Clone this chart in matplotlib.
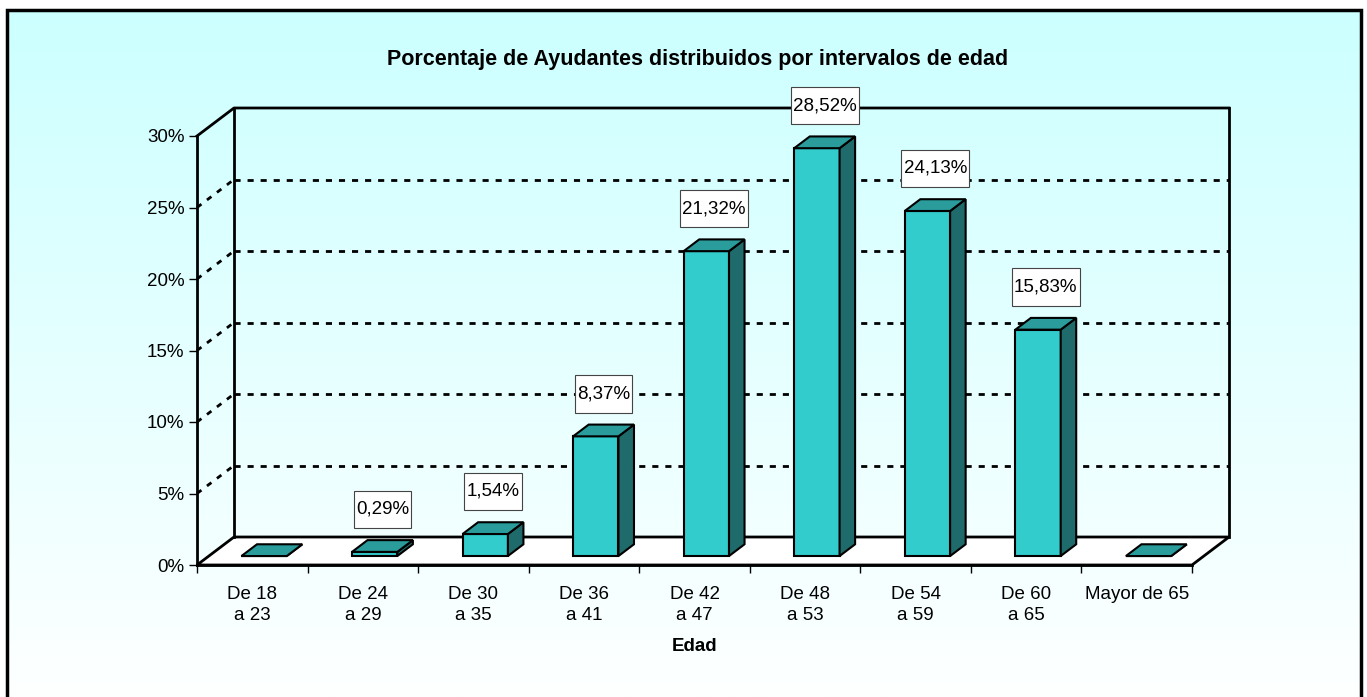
import numpy as np
import matplotlib
matplotlib.use("Agg")
import matplotlib.pyplot as plt
from matplotlib.patches import Polygon
from matplotlib.path import Path
from matplotlib.ticker import FuncFormatter

plt.rcParams['font.family'] = ['Liberation Sans', 'DejaVu Sans']

# data
categorias = ["De 18\na 23", "De 24\na 29", "De 30\na 35", "De 36\na 41", "De 42\na 47",
              "De 48\na 53", "De 54\na 59", "De 60\na 65", "Mayor de 65"]
porcentajes = [0.0, 0.29, 1.54, 8.37, 21.32, 28.52, 24.13, 15.83, 0.0]
yticks = [0, 5, 10, 15, 20, 25, 30]

titulo = "Porcentaje de Ayudantes distribuidos por intervalos de edad"

W, H = 1367, 697
fig = plt.figure(figsize=(W / 100, H / 100), dpi=100)


def caja(x0, y0, width, height, mutation_size):
    # rectangular box, wider padding top/bottom than left/right
    px = 0.12 * mutation_size
    py = 0.55 * mutation_size
    x0, y0 = x0 - px, y0 - py
    x1, y1 = x0 + width + 2 * px, y0 + height + 2 * py
    return Path([(x0, y0), (x1, y0), (x1, y1), (x0, y1), (x0, y0)], closed=True)


# background gradient + frame
bg = fig.add_axes([0, 0, 1, 1], zorder=-5)
bg.set_xlim(0, W)
bg.set_ylim(H, 0)
bg.axis('off')
t = np.linspace(0, 1, 256)[:, None]
top = np.array([0xCC, 0xFF, 0xFF]) / 255
bot = np.array([0xFE, 0xFF, 0xFF]) / 255
grad = (top[None, None, :] * (1 - t[..., None]) + bot[None, None, :] * t[..., None])
bg.imshow(grad, extent=[7, 1361, H, 10], aspect='auto', interpolation='bilinear')
bg.plot([7, 7, 1361, 1361], [H, 10, 10, H], color='black', lw=2.5, solid_joinstyle='miter')

# main axes = front plane
ax = fig.add_axes([197 / W, (H - 565) / H, 995 / W, 429 / H])
ax.set_xlim(-0.5, 8.5)
ax.set_ylim(0, 30)
ax.patch.set_visible(False)
for s in ['top', 'right', 'bottom']:
    ax.spines[s].set_visible(False)
ax.spines['left'].set_linewidth(2)

n = len(categorias)
dx = 37 / 995 * 9
dy = 28 / 429 * 30

# floor
floor = Polygon([(-0.5, 0), (n - 0.5, 0), (n - 0.5 + dx, dy), (-0.5 + dx, dy)],
                closed=True, facecolor='white', edgecolor='black', lw=2, clip_on=False, zorder=1)
ax.add_patch(floor)

# back wall + side wall
ax.plot([-0.5 + dx, -0.5 + dx], [dy, 30 + dy], color='black', lw=2, clip_on=False, zorder=2)
ax.plot([n - 0.5 + dx, n - 0.5 + dx], [dy, 30 + dy], color='black', lw=2, clip_on=False, zorder=2)
ax.plot([-0.5, -0.5 + dx, n - 0.5 + dx], [30, 30 + dy, 30 + dy], color='black', lw=2,
        clip_on=False, zorder=2)
for yv in yticks[1:-1]:
    ax.plot([-0.5, -0.5 + dx], [yv, yv + dy], color='black', lw=2, dashes=(2, 2.5),
            clip_on=False, zorder=2)
    ax.plot([-0.5 + dx, n - 0.5 + dx], [yv + dy, yv + dy], color='black', lw=2,
            dashes=(2.2, 2.5), clip_on=False, zorder=2)

# bars
w = 0.41
f1 = 0.32
bd = 0.42
c_front, c_top, c_side = '#33cccc', '#2a9c9c', '#1f6b6b'
for i, v in enumerate(porcentajes):
    x0 = i - w / 2 + f1 * dx
    y0 = f1 * dy
    ex, ey = bd * dx, bd * dy
    front = [(x0, y0), (x0 + w, y0), (x0 + w, y0 + v), (x0, y0 + v)]
    topf = [(x0, y0 + v), (x0 + w, y0 + v), (x0 + w + ex, y0 + v + ey), (x0 + ex, y0 + v + ey)]
    side = [(x0 + w, y0), (x0 + w + ex, y0 + ey), (x0 + w + ex, y0 + v + ey), (x0 + w, y0 + v)]
    for pts, c in [(front, c_front), (side, c_side), (topf, c_top)]:
        ax.add_patch(Polygon(pts, closed=True, facecolor=c, edgecolor='black', lw=1.5,
                             joinstyle='miter', clip_on=False, zorder=3 + i * 0.01))
    if v > 0:
        ax.text(i + (f1 + bd / 2) * dx, v + 3.6, f"{v:.2f}%".replace('.', ','),
                ha='center', va='center', fontsize=13.5, zorder=5,
                bbox=dict(boxstyle=caja, facecolor='white', edgecolor='#444444', lw=0.8))

# ticks
ax.set_yticks(yticks)
ax.yaxis.set_major_formatter(FuncFormatter(lambda v, p: f"{v:.0f}%"))
ax.tick_params(axis='y', direction='out', length=6, width=1, labelsize=13.5, pad=3)
ax.set_xticks(np.arange(-0.5, n, 1.0))
ax.set_xticklabels([])
ax.set_xticks(np.arange(n), minor=True)
ax.set_xticklabels(categorias, minor=True)
ax.tick_params(axis='x', which='major', direction='out', length=6, width=1)
ax.tick_params(axis='x', which='minor', length=0, labelsize=13.5, pad=15)
for lab in ax.get_xticklabels(minor=True):
    lab.set_linespacing(1.3)
ax.plot([-0.5, n - 0.5], [0, 0], color='black', lw=2, clip_on=False, zorder=2)

ax.set_xlabel("Edad", fontsize=13.5, fontweight='bold', labelpad=10)

fig.text(697.5 / W, 1 - 60 / H, titulo, ha='center', va='center', fontsize=15.5, fontweight='bold')

fig.savefig("out.png", dpi=100)
